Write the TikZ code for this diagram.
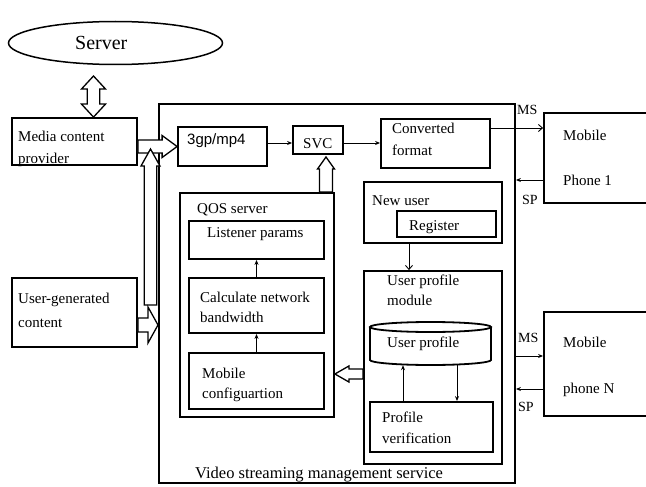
\documentclass[tikz,border=0pt]{standalone}
\usepackage{fontspec}
\setmainfont{Liberation Serif}
\newfontfamily\arialf{Liberation Sans}
\usetikzlibrary{arrows.meta,calc,shapes.geometric}

% horizontal block arrow: from, to, half shaft, half head, head length, dir (1 right, -1 left)
\newcommand\harr[6]{%
  \draw[blk] let \p1=#1, \p2=#2 in
    ({\x1},{\y2+#3}) -- ({\x2-(#6)*#5},{\y2+#3}) -- ({\x2-(#6)*#5},{\y2+#4}) -- (\x2,\y2)
    -- ({\x2-(#6)*#5},{\y2-#4}) -- ({\x2-(#6)*#5},{\y2-#3}) -- ({\x1},{\y2-#3}) -- cycle;}
% vertical block arrow: from, to, half shaft, half head, head length, dir (1 up, -1 down)
\newcommand\varr[6]{%
  \draw[blk] let \p1=#1, \p2=#2 in
    ({\x2+#3},{\y1}) -- ({\x2+#3},{\y2-(#6)*#5}) -- ({\x2+#4},{\y2-(#6)*#5}) -- (\x2,\y2)
    -- ({\x2-#4},{\y2-(#6)*#5}) -- ({\x2-#3},{\y2-(#6)*#5}) -- ({\x2-#3},{\y1}) -- cycle;}
% vertical double-headed block arrow: top, bottom, half shaft, half head, head length
\newcommand\vdarr[5]{%
  \draw[blk] let \p1=#1, \p2=#2 in
    (\x1,\y1) -- ({\x1+#4},{\y1-#5}) -- ({\x1+#3},{\y1-#5}) -- ({\x1+#3},{\y2+#5})
    -- ({\x1+#4},{\y2+#5}) -- (\x1,\y2) -- ({\x1-#4},{\y2+#5}) -- ({\x1-#3},{\y2+#5})
    -- ({\x1-#3},{\y1-#5}) -- ({\x1-#4},{\y1-#5}) -- cycle;}

\begin{document}
\begin{tikzpicture}[x=1pt,y=-1pt,
  box/.style={draw, line width=1.8pt, inner sep=0pt},
  lbl/.style={anchor=base west, inner sep=0pt, font=\fontsize{15}{18}\selectfont},
  small/.style={anchor=base west, inner sep=0pt, font=\fontsize{14}{16}\selectfont},
  blk/.style={draw, fill=white, line width=1.3pt, line join=miter},
  thinarr/.style={line width=0.9pt, -{Stealth[length=5pt,width=4pt]}},
  openarr/.style={line width=0.9pt, -{Straight Barb[length=4pt,width=7pt]}},
]
\useasboundingbox (0,0) rectangle (646,487);

% boxes
\node[draw, ellipse, line width=1.5pt, inner sep=0pt, minimum width=214pt, minimum height=43pt] (server) at (115.5,43) {};
\node[box, minimum width=125pt, minimum height=47pt] (media) at (74.5,141.5) {};
\node[box, minimum width=125pt, minimum height=69pt] (ugc) at (74.5,312.5) {};
\node[box, minimum width=356pt, minimum height=379pt] (main) at (337,293.5) {};
\node[box, minimum width=89pt, minimum height=39pt] (g3) at (222.5,146.5) {};
\node[box, minimum width=50pt, minimum height=28pt] (svc) at (318,140) {};
\node[box, minimum width=109pt, minimum height=49pt] (conv) at (435.5,143.5) {};
\node[box, minimum width=116pt, minimum height=90pt] (phone1) at (602,158) {};
\node[box, minimum width=116pt, minimum height=104pt] (phoneN) at (602,364) {};
\node[box, minimum width=154pt, minimum height=224pt] (qos) at (257,305) {};
\node[box, minimum width=135pt, minimum height=38pt] (listener) at (256.5,240) {};
\node[box, minimum width=135pt, minimum height=55pt] (calc) at (256.5,305.5) {};
\node[box, minimum width=135pt, minimum height=56pt] (mobcfg) at (256.5,381) {};
\node[box, minimum width=138pt, minimum height=61pt] (newuser) at (433,212.5) {};
\node[box, minimum width=99pt, minimum height=26pt] (register) at (446.5,224) {};
\node[box, minimum width=138pt, minimum height=193pt] (upm) at (433,367.5) {};
\node[box, minimum width=123pt, minimum height=50pt] (pverif) at (431.5,427) {};

% cylinder (user profile database)
\node[inner sep=0pt, minimum width=121pt, minimum height=43pt] (cyl) at (430.5,343.5) {};
\draw[line width=1.8pt] (430.5,327) ellipse [x radius=60.5, y radius=5];
\draw[line width=1.8pt] (370,327) -- (370,360) arc[start angle=180, end angle=0, x radius=60.5, y radius=5] -- (491,327);

% labels
\node[lbl, font=\fontsize{20}{24}\selectfont] (tServer) at (75,50) {Server};
\node[lbl] (tMedia1) at (18,142) {Media content};
\node[lbl] (tMedia2) at (18,164) {provider};
\node[lbl] (tUgc1) at (18,303) {User-generated};
\node[lbl] (tUgc2) at (18,327) {content};
\node[lbl, font=\arialf\fontsize{15}{18}\selectfont] (tG3) at (187,144) {3gp/mp4};
\node[lbl] (tSvc) at (303,148) {SVC};
\node[lbl] (tConv1) at (392,134) {Converted};
\node[lbl] (tConv2) at (392,156) {format};
\node[small] (tMS1) at (517,114) {MS};
\node[small] (tSP1) at (522,204) {SP};
\node[small] (tMSN) at (518,342) {MS};
\node[small] (tSPN) at (518,411) {SP};
\node[lbl] (tPh1a) at (563,140) {Mobile};
\node[lbl] (tPh1b) at (563,185) {Phone 1};
\node[lbl] (tPhNa) at (563,347) {Mobile};
\node[lbl] (tPhNb) at (563,393) {phone N};
\node[lbl] (tNew) at (372,205) {New user};
\node[lbl] (tReg) at (409,230) {Register};
\node[lbl] (tUpm1) at (387,285) {User profile};
\node[lbl] (tUpm2) at (387,305) {module};
\node[lbl] (tCyl) at (387,347) {User profile};
\node[lbl] (tPv1) at (382,422) {Profile};
\node[lbl] (tPv2) at (382,443) {verification};
\node[lbl] (tQos) at (197,213) {QOS server};
\node[lbl] (tList) at (207,237) {Listener params};
\node[lbl] (tCalc1) at (200,302) {Calculate network};
\node[lbl] (tCalc2) at (200,322) {bandwidth};
\node[lbl] (tMob1) at (202,378) {Mobile};
\node[lbl] (tMob2) at (202,398) {configuartion};
\node[lbl, font=\fontsize{16.5}{20}\selectfont] (tVideo) at (195,478) {Video streaming management service};

% thin connectors
\draw[thinarr] (g3.east |- 0,143) -- (svc.west |- 0,143);
\draw[thinarr] (svc.east |- 0,143) -- (conv.west |- 0,143);
\draw[openarr] (conv.east |- 0,128) -- (phone1.west |- 0,128);
\draw[thinarr] (phone1.west |- 0,180) -- (main.east |- 0,180);
\draw[thinarr] (main.east |- 0,356) -- (phoneN.west |- 0,356);
\draw[thinarr] (phoneN.west |- 0,389) -- (main.east |- 0,389);
\draw[openarr] (newuser.south -| 409,0) -- (upm.north -| 409,0);
\draw[thinarr] (calc.north) -- (listener.south);
\draw[thinarr] (mobcfg.north) -- (calc.south);
\draw[thinarr] (pverif.north -| 403,0) -- (cyl.south -| 403,0);
\draw[thinarr] (cyl.south -| 457,0) -- (pverif.north -| 457,0);

% block arrows
\coordinate (svTop) at (93.5,76);
\vdarr{(svTop)}{(svTop |- media.north)}{6.3pt}{12pt}{13pt}
\harr{(media.east |- g3.west)}{(g3.west)}{6.5pt}{11pt}{15pt}{1}
\coordinate (ugBot) at (150.5,305);
\coordinate (ugTop) at (150.5,149);
\varr{(ugBot)}{(ugTop)}{6.3pt}{9.5pt}{17pt}{1}
\harr{(ugc.east |- 0,325)}{(158,325)}{7pt}{18pt}{10pt}{1}
\varr{(qos.north -| 326,0)}{(326,157)}{6.5pt}{8.5pt}{12pt}{1}
\harr{(upm.west |- 0,374)}{(qos.east |- 0,374)}{5pt}{8pt}{14pt}{-1}
\end{tikzpicture}
\end{document}
